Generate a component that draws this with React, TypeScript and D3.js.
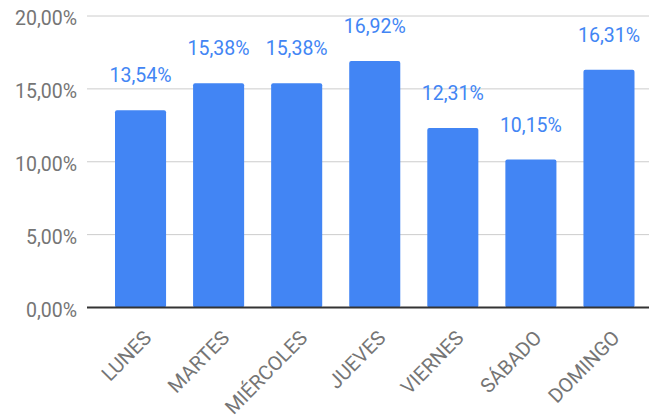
import React, { useEffect, useRef } from 'react';
import * as d3 from 'd3';

const days = ['LUNES', 'MARTES', 'MIÉRCOLES', 'JUEVES', 'VIERNES', 'SÁBADO', 'DOMINGO'];
const shares = [13.54, 15.38, 15.38, 16.92, 12.31, 10.15, 16.31];
const yTicks = [0, 5, 10, 15, 20];

const fmt = (v: number) => v.toFixed(2).replace('.', ',') + '%';

const App = () => {
  const ref = useRef<HTMLDivElement>(null);

  useEffect(() => {
    const root = d3.select(ref.current);
    root.selectAll('svg').remove();

    const width = 649;
    const height = 419;
    const left = 87;

    const svg = root
      .append('svg')
      .attr('width', width)
      .attr('height', height)
      .style('position', 'absolute')
      .style('left', 0)
      .style('top', 0)
      .style('font-family', 'Roboto, sans-serif');

    const x = d3.scaleBand<string>()
      .domain(days)
      .range([101.5, 648])
      .paddingInner(0.346)
      .paddingOuter(0.173);

    const y = d3.scaleLinear().domain([0, 20]).range([307.5, 16]);

    // grid
    svg.selectAll('.grid')
      .data(yTicks.slice(1))
      .join('line')
      .attr('class', 'grid')
      .attr('x1', left)
      .attr('x2', width)
      .attr('y1', d => y(d))
      .attr('y2', d => y(d))
      .attr('stroke', '#cccccc')
      .attr('stroke-width', 1);

    // y labels
    svg.selectAll('.ylab')
      .data(yTicks)
      .join('text')
      .attr('class', 'ylab')
      .attr('x', 77)
      .attr('y', d => y(d) + 9)
      .attr('text-anchor', 'end')
      .attr('font-size', 19.5)
      .attr('fill', '#757575')
      .text(d => fmt(d));

    // bars
    svg.selectAll('.bar')
      .data(shares)
      .join('rect')
      .attr('class', 'bar')
      .attr('x', (d, i) => x(days[i])!)
      .attr('y', d => y(d))
      .attr('width', x.bandwidth())
      .attr('height', d => y(0) - y(d))
      .attr('rx', 2)
      .attr('fill', '#4285f4');

    // value labels
    svg.selectAll('.val')
      .data(shares)
      .join('text')
      .attr('class', 'val')
      .attr('x', (d, i) => x(days[i])! + x.bandwidth() / 2)
      .attr('y', d => y(d) - 28)
      .attr('text-anchor', 'middle')
      .attr('font-size', 19.5)
      .attr('fill', '#4285f4')
      .text(d => fmt(d));

    // baseline
    svg.append('line')
      .attr('x1', left)
      .attr('x2', width)
      .attr('y1', y(0))
      .attr('y2', y(0))
      .attr('stroke', '#333333')
      .attr('stroke-width', 2);

    // x labels
    svg.selectAll('.xlab')
      .data(days)
      .join('text')
      .attr('class', 'xlab')
      .attr('transform', d => `translate(${x(d)! + x.bandwidth() / 2 + 12},${339}) rotate(-45.5)`)
      .attr('text-anchor', 'end')
      .attr('font-size', 20)
      .attr('fill', '#757575')
      .text(d => d);
  }, []);

  return <div ref={ref}></div>;
};

export default App;
